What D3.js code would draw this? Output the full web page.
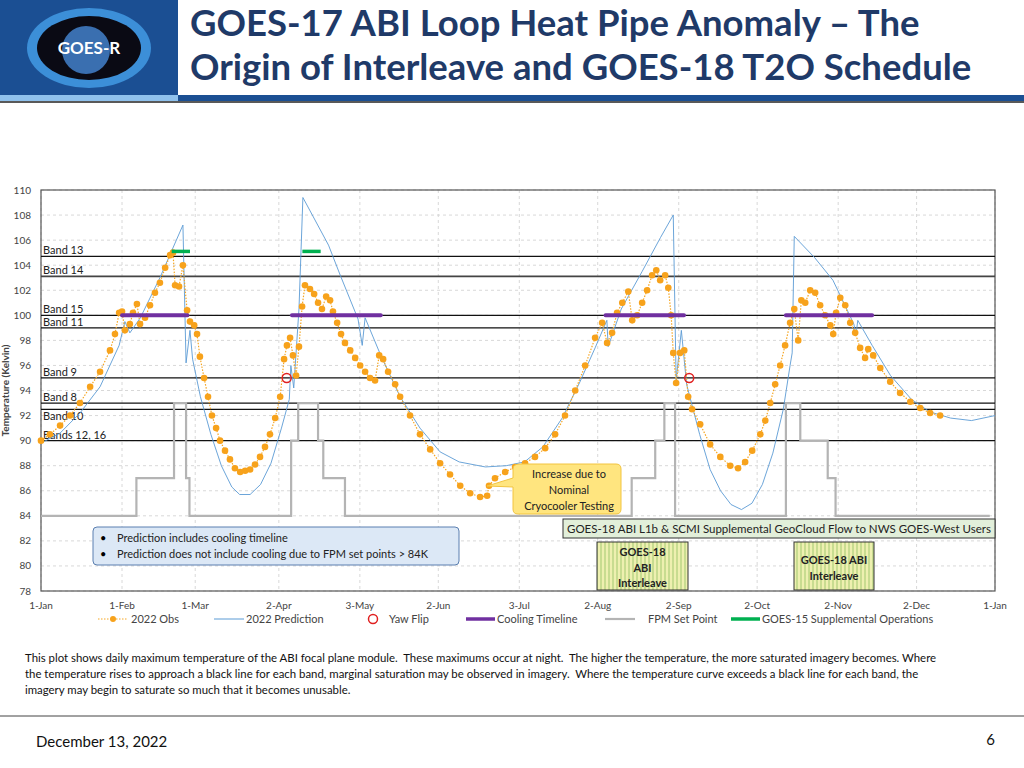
<!DOCTYPE html>
<html><head><meta charset="utf-8">
<script src="https://cdn.jsdelivr.net/npm/d3@7/dist/d3.min.js"></script>
<style>body{margin:0;background:#fff}svg{display:block;font-family:Lato,"Open Sans",sans-serif}</style>
</head><body><svg id="c" width="1024" height="768"></svg>
<script>
const monthTicks = [0,31,59,91,122,152,183,213,244,274,305,335,365];
const monthLabels = ["1-Jan","1-Feb","1-Mar","2-Apr","3-May","2-Jun","3-Jul","2-Aug","2-Sep","2-Oct","2-Nov","2-Dec","1-Jan"];
const yTicks = [78,80,82,84,86,88,90,92,94,96,98,100,102,104,106,108,110];
const obsDays = [0,3.4,7.3,11.1,14.9,18.8,22.6,26.4,28.3,29.9,31,32.1,34,35.2,36.7,37.9,39.8,41.7,43.6,45.5,47.5,49.4,50.5,51.3,52.8,54.3,55.9,57,58.6,59.7,60.8,62.4,63.9,65.4,67,68.5,70.4,72.3,74.2,76.2,78.1,80,81.9,83.8,85.7,87.6,89.6,91.5,93,94.1,95.3,96.4,97.6,98.7,99.9,101,102.9,104.5,106,107.5,109.1,110.6,111.7,113.3,114.8,116.3,118.3,120.2,122.1,124,125.9,127.8,129.4,130.9,132.8,135.5,137.4,141.2,145,148.9,152.7,156.5,160.4,164.2,168,170.7,171.4,173.7,177.6,181.4,185.2,189,192.9,196.7,200.5,204.4,208.2,212,214.7,216.6,218.5,220.4,222.4,224.7,226.2,228.1,230,231.9,233.8,235.4,236.9,238.8,240,241.1,241.9,243,244.5,246.1,247.6,249.1,252.2,256,259.9,263.7,266.7,269.4,272.1,275.2,277.1,279,280.9,282.8,284.7,286.6,288.2,289.7,290.9,292.4,294.3,296.2,298.1,300,302,303.1,304.2,305.8,307.7,309.6,311.5,313.4,315.3,316.5,318.4,321.1,324.9,328.7,332.6,336.4,340.2,344];
const obsTemps = [90.0,90.5,91.2,92.0,93.0,94.3,95.5,97.2,98.5,100.2,100.3,98.8,99.3,100.2,100.9,99.3,99.8,100.8,101.8,102.6,103.8,104.8,105.0,102.4,102.3,104.0,100.4,99.5,99.2,98.5,96.7,95.0,93.5,92.0,91.0,90.0,89.2,88.5,87.8,87.5,87.6,87.7,88.1,88.7,89.5,90.5,91.8,93.5,96.5,97.6,98.2,96.8,95.2,97.5,100.7,102.4,102.1,101.7,101.0,100.5,101.5,101.2,100.3,99.4,98.5,97.8,97.2,96.6,96.0,95.5,95.0,94.8,96.8,96.5,95.5,94.5,93.5,92.0,90.5,89.3,88.2,87.3,86.4,85.8,85.5,85.6,86.4,87.0,87.5,87.9,88.2,88.7,89.4,90.5,92.0,94.0,96.0,98.2,99.4,97.8,98.6,100.2,101.0,101.9,99.6,100.0,101.0,102.0,103.2,103.6,102.8,103.2,102.2,100.0,97.0,94.6,97.0,97.2,93.5,92.5,91.3,89.7,88.7,88.0,87.8,88.3,89.2,90.5,91.6,93.0,94.5,96.0,97.6,99.4,100.5,98.0,101.2,101.0,102.0,101.8,100.8,100.0,99.2,98.5,100.2,101.4,100.8,99.4,98.6,97.4,96.6,97.3,96.8,95.8,94.7,93.8,93.1,92.6,92.2,92.0];
const predDays = [0,7.3,14.9,22.6,29.9,32.1,34,38,45.5,54.3,55.5,57,58,61,65,69,73,76,80,84,88,92,95,95.6,96.7,98.7,100.2,110,114.3,121.3,122.9,124,130,137.4,145,152.7,160,170,178,185,192,199.4,206,212,216.5,217,222,230,237,241.9,243,245,247,252,256,260,264,268,272,276,280,284,286.6,287.4,288.2,296,303,311,311.8,312.5,318,325,333,340,348,356,365];
const predTemps = [89.8,90.6,92.2,94.3,97.6,99.5,98.6,99.8,103,107.2,96.2,98.8,96.5,93.5,90.5,88,86.3,85.7,85.7,86.5,88.2,91,93.3,96,94.2,100.5,109.4,105.6,103.3,99.7,97.6,99.8,96.8,93.5,91,89.1,88.3,87.9,88,88.3,89.5,91.8,94.6,97.4,99.6,97.5,100.5,103.5,106.2,108,94.8,98.8,94.5,90.5,87.7,86,84.9,84.5,85,86.5,89,92.5,96,97,106.3,104.6,102.8,99.3,98.4,99.6,97.6,95.2,93.3,92.3,91.8,91.6,92.0];
const fpmDays = [0,36.5,50.9,55.5,56.8,95.7,98.4,106,108,116.3,226,235,238.5,242.6,285,290.5,301,304,363];
const fpmTemps = [84,87,93,87,84,90,93,90,87,84,87,90,93,84,93,90,87,84,84];
const coolStart = [31,96,216,285], coolEnd = [56,130,246,318];
const g15Start = [50,100], g15End = [57,107];
const yawDays = [94,248], yawTemps = [95,95];
const bandNames = ["Band 13","Band 14","Band 15","Band 11","Band 9","Band 8","Band 10","Bands 12, 16"];
const bandTemps = [104.7,103.1,100,99,95,93,92.5,90];

const svg = d3.select("#c");
const L=41,R=995,T=190,B=591;
const x = d3.scaleLinear().domain([0,365]).range([L,R]);
const y = d3.scaleLinear().domain([78,110]).range([B,T]);

// header
svg.append("rect").attr("x",0).attr("y",0).attr("width",178).attr("height",95).attr("fill","#1b4f93");
svg.append("ellipse").attr("cx",89).attr("cy",48).attr("rx",62).attr("ry",40).attr("fill","#3c8fd8");
svg.append("ellipse").attr("cx",89).attr("cy",48).attr("rx",52).attr("ry",32).attr("fill","#0a0a14");
svg.append("circle").attr("cx",86).attr("cy",50).attr("r",24).attr("fill","#3a6fb0");
svg.append("text").attr("x",89).attr("y",54).attr("text-anchor","middle").attr("fill","#fff").attr("font-weight","bold").attr("font-size",17).text("GOES-R");
svg.append("rect").attr("x",0).attr("y",95).attr("width",178).attr("height",6).attr("fill","#8fc1ec");
svg.append("rect").attr("x",178).attr("y",95).attr("width",846).attr("height",6).attr("fill","#1b4f93");
svg.append("line").attr("x1",0).attr("x2",1024).attr("y1",102).attr("y2",102).attr("stroke","#222").attr("stroke-width",1.5);
const title = ["GOES-17 ABI Loop Heat Pipe Anomaly – The","Origin of Interleave and GOES-18 T2O Schedule"];
title.forEach((t,i)=>svg.append("text").attr("x",190).attr("y",36+i*44).attr("font-size",36.5).attr("font-weight","bold").attr("fill","#1f3a68").text(t));

// grid
const gg = svg.append("g");
yTicks.forEach(v=>gg.append("line").attr("x1",L).attr("x2",R).attr("y1",y(v)).attr("y2",y(v)).attr("stroke","#d8d8d8").attr("stroke-dasharray","3,3"));
monthTicks.forEach(v=>gg.append("line").attr("x1",x(v)).attr("x2",x(v)).attr("y1",T).attr("y2",B).attr("stroke","#d8d8d8").attr("stroke-dasharray","3,3"));
svg.append("rect").attr("x",L).attr("y",T).attr("width",R-L).attr("height",B-T).attr("fill","none").attr("stroke","#555").attr("stroke-width",1.2);

// axes labels
const ax = svg.append("g").attr("font-size",10).attr("fill","#444");
yTicks.forEach(v=>ax.append("text").attr("x",L-10).attr("y",y(v)+3.5).attr("text-anchor","end").text(v));
monthTicks.forEach((v,i)=>ax.append("text").attr("x",x(v)).attr("y",B+18).attr("text-anchor","middle").text(monthLabels[i]));
svg.append("text").attr("transform",`translate(9,${(T+B)/2-0}) rotate(-90)`).attr("text-anchor","middle").attr("font-size",10).attr("font-weight","bold").attr("fill","#444").text("Temperature (Kelvin)");

// band lines
bandTemps.forEach((v,i)=>{
  svg.append("line").attr("x1",L).attr("x2",R).attr("y1",y(v)).attr("y2",y(v)).attr("stroke",i==1?"#444":"#111").attr("stroke-width",i==1?1.8:1.3);
  svg.append("text").attr("x",L+2).attr("y",i==6?y(v)+11:y(v)-2).attr("font-size",11).attr("fill","#222").text(bandNames[i]);
});

// FPM set point
svg.append("path").datum(fpmDays.map((d,i)=>[d,fpmTemps[i]])).attr("fill","none").attr("stroke","#b4b4b4").attr("stroke-width",2.2)
  .attr("d",d3.line().x(d=>x(d[0])).y(d=>y(d[1])).curve(d3.curveStepAfter));
// prediction
svg.append("path").datum(predDays.map((d,i)=>[d,predTemps[i]])).attr("fill","none").attr("stroke","#5b9bd5").attr("stroke-width",0.9)
  .attr("d",d3.line().x(d=>x(d[0])).y(d=>y(d[1])));
// obs
const obs = obsDays.map((d,i)=>[d,obsTemps[i]]);
svg.append("path").datum(obs).attr("fill","none").attr("stroke","#f5a623").attr("stroke-width",1.2).attr("stroke-dasharray","1.5,1.5")
  .attr("d",d3.line().x(d=>x(d[0])).y(d=>y(d[1])));
svg.append("g").selectAll("circle").data(obs).join("circle").attr("cx",d=>x(d[0])).attr("cy",d=>y(d[1])).attr("r",3.3).attr("fill","#f7a21b");
// cooling
coolStart.forEach((s,i)=>svg.append("line").attr("x1",x(s)).attr("x2",x(coolEnd[i])).attr("y1",y(100)).attr("y2",y(100)).attr("stroke","#7030a0").attr("stroke-width",4).attr("stroke-linecap","round"));
g15Start.forEach((s,i)=>svg.append("line").attr("x1",x(s)).attr("x2",x(g15End[i])).attr("y1",y(105.1)).attr("y2",y(105.1)).attr("stroke","#00b050").attr("stroke-width",3.5));
yawDays.forEach((d,i)=>svg.append("circle").attr("cx",x(d)).attr("cy",y(yawTemps[i])).attr("r",4.5).attr("fill","none").attr("stroke","#e02020").attr("stroke-width",1.5));

// callout
const cg = svg.append("g");
cg.append("path").attr("d","M520,464 h96 q5,0 5,5 v40 q0,5 -5,5 h-98 q-5,0 -5,-5 v-22 l-26,-1 l26,-8 v-9 q0,-5 7,-5 z").attr("fill","#ffe57f").attr("stroke","#f2c440");
["Increase due to","Nominal","Cryocooler Testing"].forEach((t,i)=>cg.append("text").attr("x",569).attr("y",478+i*16).attr("text-anchor","middle").attr("font-size",11).attr("fill","#222").text(t));
// bullet box
svg.append("rect").attr("x",93).attr("y",527).attr("width",366).attr("height",38).attr("rx",4).attr("fill","#dce8f6").attr("stroke","#5b7fb0");
["Prediction includes cooling timeline","Prediction does not include cooling due to FPM set points > 84K"].forEach((t,i)=>{
  svg.append("text").attr("x",100).attr("y",542+i*16).attr("font-size",11).text("•");
  svg.append("text").attr("x",117).attr("y",542+i*16).attr("font-size",11).attr("fill","#222").text(t);
});
// green bar
svg.append("rect").attr("x",563).attr("y",519).attr("width",432).attr("height",19).attr("fill","#e2efda").attr("stroke","#333");
svg.append("text").attr("x",779).attr("y",533).attr("text-anchor","middle").attr("font-size",11.5).attr("fill","#222").text("GOES-18 ABI L1b & SCMI Supplemental GeoCloud Flow to NWS GOES-West Users");
// interleave boxes
const defs = svg.append("defs");
const pat = defs.append("pattern").attr("id","hatch").attr("width",4).attr("height",4).attr("patternUnits","userSpaceOnUse");
pat.append("rect").attr("width",4).attr("height",4).attr("fill","#eef0b0");
pat.append("rect").attr("width",2).attr("height",4).attr("fill","#c8dc90");
[[597,91,["GOES-18","ABI","Interleave"],556],[794,80,["GOES-18 ABI","Interleave"],564]].forEach(b=>{
  svg.append("rect").attr("x",b[0]).attr("y",542).attr("width",b[1]).attr("height",48).attr("fill","url(#hatch)").attr("stroke","#333");
  b[2].forEach((t,i)=>svg.append("text").attr("x",b[0]+b[1]/2).attr("y",b[3]+i*15.5).attr("text-anchor","middle").attr("font-size",11).attr("font-weight","bold").attr("fill","#222").text(t));
});

// legend
const lg = svg.append("g").attr("font-size",11).attr("fill","#444");
const ly=619;
lg.append("line").attr("x1",98).attr("x2",128).attr("y1",ly).attr("y2",ly).attr("stroke","#f5a623").attr("stroke-dasharray","1.5,1.5");
lg.append("circle").attr("cx",113).attr("cy",ly).attr("r",3).attr("fill","#f7a21b");
lg.append("text").attr("x",131).attr("y",ly+4).text("2022 Obs");
lg.append("line").attr("x1",214).attr("x2",244).attr("y1",ly).attr("y2",ly).attr("stroke","#5b9bd5");
lg.append("text").attr("x",246).attr("y",ly+4).text("2022 Prediction");
lg.append("circle").attr("cx",373).attr("cy",ly).attr("r",4.5).attr("fill","none").attr("stroke","#e02020").attr("stroke-width",1.5);
lg.append("text").attr("x",389).attr("y",ly+4).text("Yaw Flip");
lg.append("line").attr("x1",466).attr("x2",495).attr("y1",ly).attr("y2",ly).attr("stroke","#7030a0").attr("stroke-width",3.5);
lg.append("text").attr("x",497).attr("y",ly+4).text("Cooling Timeline");
lg.append("line").attr("x1",605).attr("x2",635).attr("y1",ly).attr("y2",ly).attr("stroke","#b4b4b4").attr("stroke-width",2.2);
lg.append("text").attr("x",648).attr("y",ly+4).text("FPM Set Point");
lg.append("line").attr("x1",731).attr("x2",760).attr("y1",ly).attr("y2",ly).attr("stroke","#00b050").attr("stroke-width",3.5);
lg.append("text").attr("x",762).attr("y",ly+4).text("GOES-15 Supplemental Operations");

// paragraph
["This plot shows daily maximum temperature of the ABI focal plane module.  These maximums occur at night.  The higher the temperature, the more saturated imagery becomes. Where",
 "the temperature rises to approach a black line for each band, marginal saturation may be observed in imagery.  Where the temperature curve exceeds a black line for each band, the",
 "imagery may begin to saturate so much that it becomes unusable."].forEach((t,i)=>svg.append("text").attr("x",25).attr("y",662+i*16).attr("font-size",11.4).attr("fill","#111").style("white-space","pre").text(t));
svg.append("line").attr("x1",0).attr("x2",1024).attr("y1",716).attr("y2",716).attr("stroke","#444");
svg.append("text").attr("x",36).attr("y",747).attr("font-size",15).attr("fill","#111").text("December 13, 2022");
svg.append("text").attr("x",995).attr("y",745).attr("font-size",15).attr("text-anchor","end").attr("fill","#111").text("6");
</script></body></html>
